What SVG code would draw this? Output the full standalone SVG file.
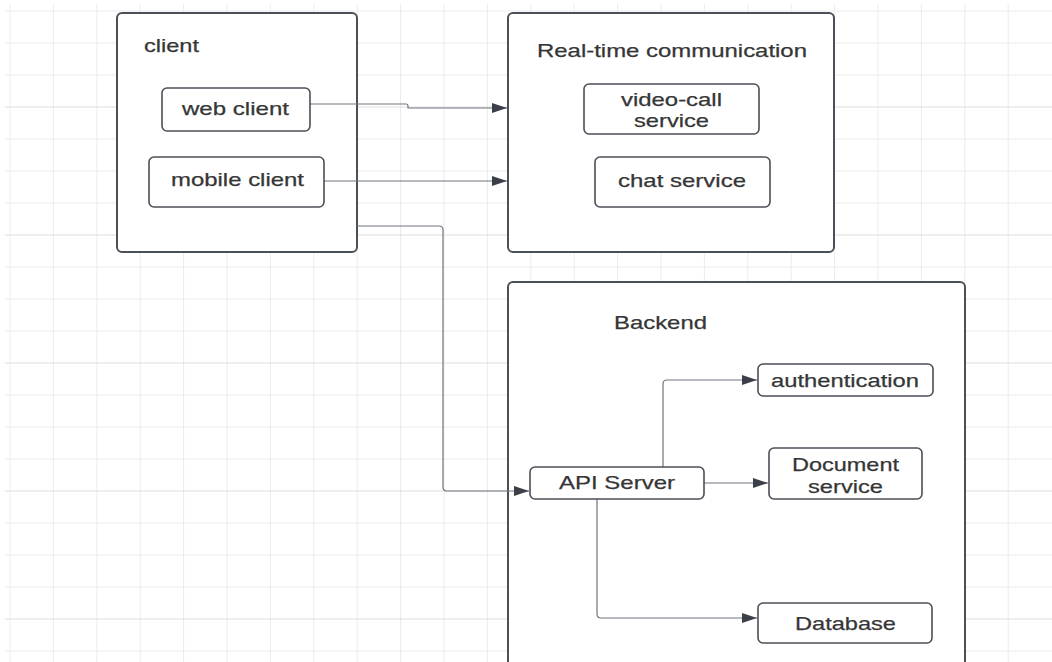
<svg xmlns="http://www.w3.org/2000/svg" width="1052" height="662" viewBox="0 0 1052 662">
  <defs>
    <style>
      .grid line { stroke: #ebebeb; stroke-width: 1; }
      .grid line.major { stroke: #dddddd; }
      .container { fill: #ffffff; stroke: #4b5058; stroke-width: 2; }
      .node rect { fill: #ffffff; stroke: #4b5058; stroke-width: 1.6; }
      text { font-family: "Liberation Sans", Arial, sans-serif; font-size: 19px; fill: #363636; stroke: #363636; stroke-width: 0.25; }
      .conn path { fill: none; stroke: #6f747c; stroke-width: 1.2; }
    </style>
    <marker id="arr" markerWidth="16" markerHeight="11" refX="15" refY="5.5" orient="auto" markerUnits="userSpaceOnUse">
      <path d="M0,0.5 L15,5.5 L0,10.5 Z" fill="#3b4048"/>
    </marker>
  </defs>
  <rect x="0" y="0" width="1052" height="662" fill="#ffffff"/>
  <g class="grid" id="grid">
    <line x1="10" y1="4" x2="10" y2="662"/>
    <line x1="53.4" y1="4" x2="53.4" y2="662"/>
    <line x1="96.8" y1="4" x2="96.8" y2="662"/>
    <line x1="140.2" y1="4" x2="140.2" y2="662"/>
    <line x1="183.6" y1="4" x2="183.6" y2="662"/>
    <line x1="227" y1="4" x2="227" y2="662"/>
    <line x1="270.4" y1="4" x2="270.4" y2="662"/>
    <line x1="313.8" y1="4" x2="313.8" y2="662"/>
    <line x1="357.2" y1="4" x2="357.2" y2="662"/>
    <line x1="400.6" y1="4" x2="400.6" y2="662"/>
    <line x1="444" y1="4" x2="444" y2="662"/>
    <line x1="487.4" y1="4" x2="487.4" y2="662"/>
    <line x1="530.8" y1="4" x2="530.8" y2="662"/>
    <line x1="574.2" y1="4" x2="574.2" y2="662"/>
    <line x1="617.6" y1="4" x2="617.6" y2="662"/>
    <line x1="661" y1="4" x2="661" y2="662"/>
    <line x1="704.4" y1="4" x2="704.4" y2="662"/>
    <line x1="747.8" y1="4" x2="747.8" y2="662"/>
    <line x1="791.2" y1="4" x2="791.2" y2="662"/>
    <line x1="834.6" y1="4" x2="834.6" y2="662"/>
    <line x1="878" y1="4" x2="878" y2="662"/>
    <line x1="921.4" y1="4" x2="921.4" y2="662"/>
    <line x1="964.8" y1="4" x2="964.8" y2="662"/>
    <line x1="1008.2" y1="4" x2="1008.2" y2="662"/>
    <line x1="5" y1="11" x2="1052" y2="11"/>
    <line x1="5" y1="43" x2="1052" y2="43"/>
    <line x1="5" y1="75" x2="1052" y2="75"/>
    <line class="major" x1="5" y1="107" x2="1052" y2="107"/>
    <line x1="5" y1="139" x2="1052" y2="139"/>
    <line x1="5" y1="171" x2="1052" y2="171"/>
    <line x1="5" y1="203" x2="1052" y2="203"/>
    <line class="major" x1="5" y1="235" x2="1052" y2="235"/>
    <line x1="5" y1="267" x2="1052" y2="267"/>
    <line x1="5" y1="299" x2="1052" y2="299"/>
    <line x1="5" y1="331" x2="1052" y2="331"/>
    <line class="major" x1="5" y1="363" x2="1052" y2="363"/>
    <line x1="5" y1="395" x2="1052" y2="395"/>
    <line x1="5" y1="427" x2="1052" y2="427"/>
    <line x1="5" y1="459" x2="1052" y2="459"/>
    <line class="major" x1="5" y1="491" x2="1052" y2="491"/>
    <line x1="5" y1="523" x2="1052" y2="523"/>
    <line x1="5" y1="555" x2="1052" y2="555"/>
    <line x1="5" y1="587" x2="1052" y2="587"/>
    <line class="major" x1="5" y1="619" x2="1052" y2="619"/>
    <line x1="5" y1="651" x2="1052" y2="651"/>
  </g>

  <g id="client">
    <rect class="container" x="117" y="13" width="240" height="239" rx="5"/>
    <text x="144" y="52" textLength="55" lengthAdjust="spacingAndGlyphs">client</text>
  </g>
  <g id="realtime">
    <rect class="container" x="508" y="13" width="326" height="239" rx="5"/>
    <text x="537" y="57" textLength="270" lengthAdjust="spacingAndGlyphs">Real-time communication</text>
  </g>
  <g id="backend">
    <rect class="container" x="508" y="282" width="457" height="400" rx="5"/>
    <text x="614" y="329" textLength="93" lengthAdjust="spacingAndGlyphs">Backend</text>
  </g>

  <g class="conn" id="connectors">
    <path d="M310,104 H406 Q408,104 408,106 V108 H507" marker-end="url(#arr)"/>
    <path d="M324,181 H507" marker-end="url(#arr)"/>
    <path d="M357,226 H439 Q443,226 443,230 V487 Q443,491 447,491 H529" marker-end="url(#arr)"/>
    <path d="M663,467 V384 Q663,380 667,380 H757" marker-end="url(#arr)"/>
    <path d="M704,483 H768" marker-end="url(#arr)"/>
    <path d="M597,499 V614 Q597,618 601,618 H757" marker-end="url(#arr)"/>
  </g>

  <g class="node" id="web-client">
    <rect x="162" y="88" width="148" height="43" rx="5"/>
    <text x="182" y="115" textLength="107" lengthAdjust="spacingAndGlyphs">web client</text>
  </g>
  <g class="node" id="mobile-client">
    <rect x="149" y="157" width="175" height="50" rx="5"/>
    <text x="171" y="186" textLength="133" lengthAdjust="spacingAndGlyphs">mobile client</text>
  </g>
  <g class="node" id="video-call-service">
    <rect x="584" y="84" width="175" height="50" rx="5"/>
    <text x="621" y="106" textLength="101" lengthAdjust="spacingAndGlyphs">video-call</text>
    <text x="634" y="127" textLength="75" lengthAdjust="spacingAndGlyphs">service</text>
  </g>
  <g class="node" id="chat-service">
    <rect x="595" y="157" width="175" height="50" rx="5"/>
    <text x="618" y="187" textLength="128" lengthAdjust="spacingAndGlyphs">chat service</text>
  </g>
  <g class="node" id="authentication">
    <rect x="758" y="364" width="175" height="32" rx="5"/>
    <text x="771" y="387" textLength="148" lengthAdjust="spacingAndGlyphs">authentication</text>
  </g>
  <g class="node" id="document-service">
    <rect x="769" y="448" width="153" height="51" rx="5"/>
    <text x="792" y="471" textLength="107" lengthAdjust="spacingAndGlyphs">Document</text>
    <text x="808" y="493" textLength="75" lengthAdjust="spacingAndGlyphs">service</text>
  </g>
  <g class="node" id="api-server">
    <rect x="530" y="467" width="174" height="32" rx="5"/>
    <text x="559" y="489" textLength="116" lengthAdjust="spacingAndGlyphs">API Server</text>
  </g>
  <g class="node" id="database">
    <rect x="758" y="603" width="174" height="40" rx="5"/>
    <text x="795" y="630" textLength="101" lengthAdjust="spacingAndGlyphs">Database</text>
  </g>
</svg>
